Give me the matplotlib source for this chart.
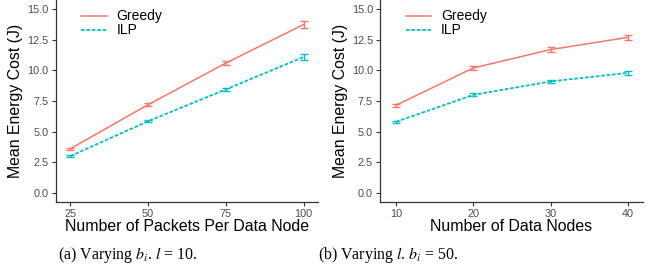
import matplotlib
matplotlib.use('Agg')
import matplotlib.pyplot as plt
from matplotlib.lines import Line2D

plt.rcParams.update({
    'font.family': 'Liberation Sans',
    'mathtext.fontset': 'stix',
})

# data
packets = [25, 50, 75, 100]
greedy_a = [3.6, 7.2, 10.6, 13.75]
greedy_a_err = [0.08, 0.12, 0.17, 0.3]
ilp_a = [3.0, 5.85, 8.45, 11.1]
ilp_a_err = [0.05, 0.08, 0.12, 0.25]

nodes = [10, 20, 30, 40]
greedy_b = [7.15, 10.2, 11.7, 12.7]
greedy_b_err = [0.12, 0.17, 0.2, 0.22]
ilp_b = [5.8, 8.0, 9.1, 9.8]
ilp_b_err = [0.08, 0.12, 0.13, 0.17]

yticks = [0.0, 2.5, 5.0, 7.5, 10.0, 12.5, 15.0]

RED = '#F8766D'
CYAN = '#00BFC4'
DOT = (0, (2, 1))
W, H = 657, 277

fig = plt.figure(figsize=(W / 100, H / 100), dpi=100)
ax_a = fig.add_axes([55.7 / W, 1 - 202 / H, 262 / W, 202 / H])
ax_b = fig.add_axes([380 / W, 1 - 202 / H, 263 / W, 202 / H])


def panel(ax, x, g, ge, i, ie, xlabel, xlim):
    ax.errorbar(x, g, yerr=ge, color=RED, lw=1.1, capsize=3, capthick=1.0,
                elinewidth=1.0)
    ax.errorbar(x, i, yerr=ie, color=CYAN, lw=1.3, ls=DOT, capsize=3,
                capthick=1.0, elinewidth=1.0)
    ax.set_xlim(*xlim)
    ax.set_ylim(-0.75, 15.75)
    ax.set_xticks(x)
    ax.set_yticks(yticks)
    ax.set_yticklabels([f'{v:.1f}' for v in yticks])
    for s in ['top', 'right']:
        ax.spines[s].set_visible(False)
    for s in ['left', 'bottom']:
        ax.spines[s].set_color('#333333')
        ax.spines[s].set_linewidth(0.9)
    ax.tick_params(direction='out', length=3, width=0.8, color='#333333',
                   labelsize=7.8, labelcolor='#4D4D4D', pad=2)
    ax.set_xlabel(xlabel, fontsize=11.4, labelpad=0)
    ax.set_ylabel('Mean Energy Cost (J)', fontsize=11.4, labelpad=3)
    handles = [Line2D([], [], color=RED, lw=1.1),
               Line2D([], [], color=CYAN, lw=1.3, ls=DOT)]
    ax.legend(handles, ['Greedy', 'ILP'], loc='upper left',
              bbox_to_anchor=(0.05, 1.015), frameon=False, fontsize=10,
              handlelength=1.85, handletextpad=0.7, labelspacing=0.0)


panel(ax_a, packets, greedy_a, greedy_a_err, ilp_a, ilp_a_err,
      'Number of Packets Per Data Node', (20.3, 104.5))
panel(ax_b, nodes, greedy_b, greedy_b_err, ilp_b, ilp_b_err,
      'Number of Data Nodes', (7.93, 41.94))

fig.text(128 / W, 1 - 255 / H, r'(a) Varying $b_i$. $l$ = 10.', ha='center',
         va='center', fontsize=11.4, family='Liberation Serif')
fig.text(388 / W, 1 - 255 / H, r'(b) Varying $l$. $b_i$ = 50.', ha='center',
         va='center', fontsize=11.4, family='Liberation Serif')

fig.savefig('out.png', dpi=100)
